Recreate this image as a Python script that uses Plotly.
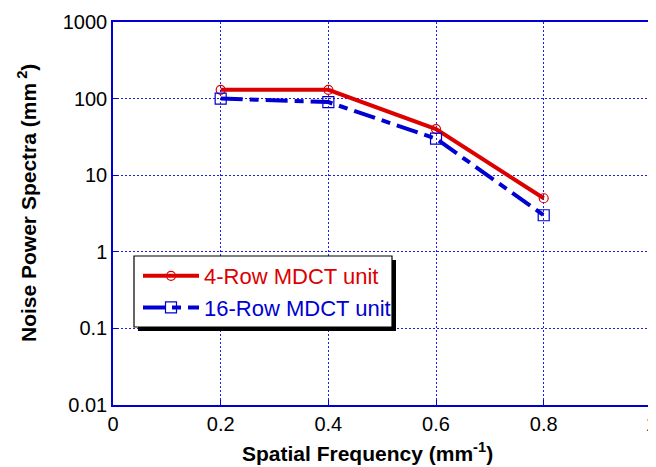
import plotly.graph_objects as go

freq = [0.2, 0.4, 0.6, 0.8]
nps_4row = [130, 130, 40, 5]
nps_16row = [100, 90, 30, 3]
name_4row = "4-Row MDCT unit"
name_16row = "16-Row MDCT unit"
y_tickvals = [0.01, 0.1, 1, 10, 100, 1000]
y_ticktext = ["0.01", "0.1", "1", "10", "100", "1000"]
x_tickvals = [0, 0.2, 0.4, 0.6, 0.8, 1]
x_ticktext = ["0", "0.2", "0.4", "0.6", "0.8", "1"]
x_title = "<b>Spatial Frequency (mm<sup>-1</sup>)</b>"
y_title = "<b>Noise Power Spectra (mm<sup> 2</sup>)</b>"

RED = "rgb(220,0,0)"
BLUE = "rgb(0,0,210)"
GRID = "rgb(30,30,225)"
FONT = "Liberation Sans, Arial, sans-serif"

# page body has an 8px margin; positions below are in screen pixels
OFF = 8
W, H = 656, 467 - OFF
PL, PT, PR, PB = 113, 22, 653, 405  # plot area in screen pixels
PW, PH = PR - PL, PB - PT
L, T = PL - OFF, PT - OFF
R = W - L - PW
B = H - T - PH


def px(x):
    return (x - PL) / PW


def py(y):
    return (PB - y) / PH


fig = go.Figure()
fig.add_trace(go.Scatter(
    x=freq, y=nps_4row, mode="lines+markers",
    name=f"<span style='color:{RED}'>{name_4row}</span>",
    line=dict(color=RED, width=4),
    marker=dict(symbol="circle-open", size=9, color=RED, line=dict(width=1.2, color=RED)),
))
fig.add_trace(go.Scatter(
    x=freq, y=nps_16row, mode="lines+markers",
    name=f"<span style='color:{BLUE}'>{name_16row}</span>",
    line=dict(color=BLUE, width=4, dash="22px,7px,9px,7px"),
    marker=dict(symbol="square-open", size=11, color=BLUE, line=dict(width=1.2, color=BLUE)),
))

# legend frame with shadow
fig.add_shape(type="rect", xref="paper", yref="paper",
              x0=px(138), x1=px(396), y0=py(331), y1=py(260),
              fillcolor="black", line=dict(width=0), layer="above")
fig.add_shape(type="rect", xref="paper", yref="paper",
              x0=px(134), x1=px(392), y0=py(327), y1=py(256),
              fillcolor="white", line=dict(width=1.2, color="black"), layer="above")

fig.add_annotation(text=x_title, xref="paper", yref="paper", x=px(367), y=py(452),
                   xanchor="center", yanchor="middle", showarrow=False,
                   font=dict(family=FONT, size=21, color="black"))
fig.add_annotation(text=y_title, xref="paper", yref="paper", x=px(27), y=py(203),
                   xanchor="center", yanchor="middle", showarrow=False, textangle=-90,
                   font=dict(family=FONT, size=21, color="black"))

fig.update_layout(
    width=W, height=H,
    margin=dict(l=L, r=R, t=T, b=B, pad=0),
    paper_bgcolor="white", plot_bgcolor="white",
    font=dict(family=FONT, size=20, color="black"),
    showlegend=True,
    legend=dict(x=px(138), y=py(255), xanchor="left", yanchor="top",
                bgcolor="rgba(0,0,0,0)", borderwidth=0,
                font=dict(family=FONT, size=22), tracegroupgap=0, itemwidth=56),
    xaxis=dict(range=[0, 1.003], tickvals=x_tickvals, ticktext=x_ticktext, automargin=False,
               showgrid=True, gridcolor=GRID, griddash="2px,2px", gridwidth=1,
               showline=True, linecolor=BLUE, linewidth=1.5, mirror=True,
               ticks="inside", ticklen=5, tickcolor=BLUE, zeroline=False,
               tickfont=dict(size=20)),
    yaxis=dict(type="log", range=[-2, 3], tickvals=y_tickvals, ticktext=y_ticktext, automargin=False,
               showgrid=True, gridcolor=GRID, griddash="2px,2px", gridwidth=1,
               showline=True, linecolor=BLUE, linewidth=1.5, mirror=True,
               ticks="inside", ticklen=5, tickcolor=BLUE, zeroline=False,
               tickfont=dict(size=20)),
)

fig.write_html("out.html")
